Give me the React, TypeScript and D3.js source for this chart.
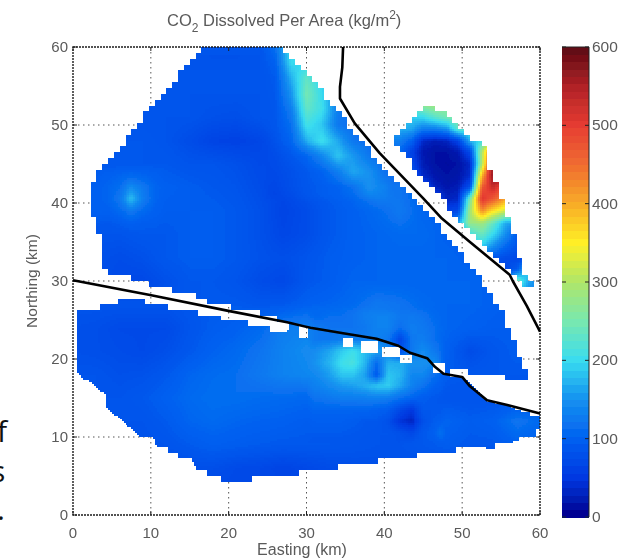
import React, { useMemo } from "react";
import * as d3 from "d3";

const W = 630, H = 559;
const PLOT = { l: 73, r: 540, t: 47, b: 515 };
const BAR = { l: 562, r: 589, t: 47, b: 517 };

const axisTicks = [0, 10, 20, 30, 40, 50, 60];
const barTicks = [0, 100, 200, 300, 400, 500, 600];
const colorStops = [0, 50, 100, 150, 200, 250, 300, 350, 400, 450, 500, 550, 600];
const colorValues = ["#00008a", "#0038e0", "#0060f0", "#1490f0", "#38dcf0", "#78e8b0", "#aee66a", "#fff028", "#f8ac28", "#f06c30", "#e63c30", "#b02228", "#5c0a10"];

// base field: x = 0..60 step 3, y = 60..0 step 3
const baseX = d3.range(0, 61, 3);
const baseY = d3.range(60, -1, -3);
const baseRows = [
  [85,85,85,85,85,85,80,80,85,120,180,120,100,100,100,100,100,100,100,100,100],
  [85,85,85,85,85,85,85,85,85,95,190,130,100,100,100,100,100,100,100,100,100],
  [85,85,85,85,85,85,85,85,85,95,230,120,105,100,100,100,100,100,100,100,100],
  [85,85,85,85,85,85,80,78,85,95,210,115,100,100,100,100,100,100,100,100,100],
  [90,90,90,90,85,75,65,62,68,85,130,150,120,105,100,100,100,100,100,100,100],
  [90,90,90,90,90,85,85,80,72,78,95,115,165,130,105,100,100,100,100,100,100],
  [100,100,105,110,100,95,90,85,75,70,85,95,110,145,120,100,100,100,100,100,100],
  [100,100,110,105,95,95,95,90,80,65,75,90,100,110,125,105,100,100,100,100,100],
  [90,85,85,90,90,95,95,90,80,68,75,90,100,105,110,110,100,100,100,100,100],
  [85,80,75,80,90,95,95,90,82,78,85,95,100,105,105,105,105,100,100,100,100],
  [80,78,72,70,80,90,90,85,75,70,88,95,105,105,105,105,105,105,100,100,100],
  [85,85,85,85,85,88,92,92,88,90,100,105,110,125,120,110,105,105,100,95,95],
  [80,78,72,72,72,85,95,100,110,130,135,125,125,125,125,110,105,100,95,95,95],
  [80,78,75,72,78,90,102,110,120,135,145,160,185,160,140,115,100,75,88,95,95],
  [85,85,80,82,90,105,112,115,125,135,140,155,185,165,130,105,95,90,90,90,90],
  [85,85,85,90,100,110,115,115,112,110,108,115,125,115,100,90,85,85,85,85,90],
  [85,85,85,85,92,105,110,105,102,100,95,95,95,90,60,90,105,95,100,122,110],
  [80,80,80,82,85,92,98,95,92,90,90,90,88,85,85,90,95,90,90,100,100],
  [75,75,75,75,75,78,78,72,70,65,70,75,78,80,80,80,80,80,85,90,90],
  [70,70,70,70,70,70,70,70,70,70,70,70,70,70,70,70,70,70,70,70,70],
  [70,70,70,70,70,70,70,70,70,70,70,70,70,70,70,70,70,70,70,70,70],
];

// small bright spot on the western side
const westX = d3.range(3, 12.1, 1.5);
const westY = d3.range(45, 35.9, -1.5);
const westRows = [
  [92,92,92,92,92,92,92],
  [100,100,105,110,105,100,95],
  [100,105,115,145,125,105,100],
  [100,105,125,180,130,105,95],
  [100,100,110,125,110,100,95],
  [90,90,95,100,95,95,90],
  [85,85,85,90,90,90,90],
];

// bright band south-west of the northern fault
const bandX = d3.range(24, 43, 2);
const bandY = d3.range(60, 39, -2);
const bandRows = [
  [85,115,205,160,125,110,100,100,100,100],
  [85,100,200,190,140,115,105,100,100,100],
  [85,92,170,235,190,125,110,105,100,100],
  [85,90,150,250,200,130,112,105,100,100],
  [85,88,130,235,205,130,115,105,100,100],
  [80,88,115,210,185,125,115,110,100,100],
  [65,82,105,170,205,165,125,110,105,100],
  [70,75,88,105,140,185,155,125,110,105],
  [72,72,80,90,102,130,165,150,120,105],
  [72,68,78,88,95,102,118,150,135,110],
  [75,65,72,85,95,100,105,125,130,120],
];

// centre of the southern block
const midX = d3.range(30, 48.1, 1.5);
const midY = d3.range(27, 8.9, -1.5);
const midRows = [
  [100,105,105,110,115,125,125,120,115,115,110,105,105],
  [110,110,115,115,120,130,135,135,125,125,120,110,105],
  [130,125,120,120,120,125,135,135,115,130,125,115,105],
  [125,125,125,130,130,130,135,125,65,125,130,115,105],
  [135,150,165,190,205,180,165,140,80,125,145,125,105],
  [140,155,175,205,215,175,110,170,170,150,150,145,105],
  [135,145,160,185,185,160,90,185,175,140,140,115,100],
  [130,135,145,155,160,170,185,190,165,135,120,100,95],
  [118,120,125,130,130,132,135,130,115,105,95,90,90],
  [105,105,105,105,105,105,100,95,70,50,90,90,90],
  [98,98,98,98,95,90,90,80,45,32,80,95,100],
  [92,92,92,92,90,88,85,85,80,70,90,100,145],
  [85,85,85,85,85,85,85,85,85,85,90,92,95],
];

// north-eastern block
const neX = d3.range(42, 60.1, 1.5);
const neY = d3.range(54, 27.9, -1.5);
const neRows = [
  [200,250,280,280,280,280,250,200,200,200,200,200,200],
  [200,230,270,285,270,260,250,230,220,200,200,200,200],
  [190,190,200,230,250,260,250,230,220,200,200,200,200],
  [170,165,130,130,150,230,225,230,230,230,230,230,230],
  [130,100,35,25,30,60,170,210,300,350,350,350,350],
  [110,60,22,15,15,22,70,300,500,500,500,500,500],
  [100,70,25,15,12,15,35,300,575,590,590,590,590],
  [100,90,35,20,15,18,40,400,570,580,580,580,580],
  [100,90,80,30,20,25,80,470,530,470,420,420,420],
  [100,100,90,70,30,35,250,510,470,410,350,350,350],
  [100,100,100,90,60,70,290,420,360,320,300,300,300],
  [100,100,100,100,100,160,280,290,240,170,160,160,160],
  [100,100,100,100,100,130,210,240,200,150,95,95,95],
  [100,100,100,100,100,130,170,190,150,110,85,85,85],
  [100,100,100,100,100,130,150,120,85,75,70,70,70],
  [100,100,100,100,100,120,120,100,75,70,90,200,260],
  [100,100,100,100,100,100,100,100,100,100,250,170,130],
  [100,100,100,100,100,100,100,100,100,100,200,140,140],
];

// footprints, km
const upperEdge: [number, number][] = [
  [16.6,60],[27,60],[30.4,56.6],[33.9,51.9],[35.5,50],[39,45.5],[43,41.3],[47.1,37],[51.9,31],[52.3,30.2],
  [55.3,26],[56.5,22.6],[57.8,19.6],[58.7,18],[58.7,17.6],[55.2,17.6],[55.2,18.1],[50.7,18.1],[46,18.5],[40,20],[28,23.4],
  [27.5,24.7],[25.3,25.5],[22.3,26.2],[19.8,26.7],[17.2,27.4],[15,28.3],[12.2,29],[9.9,29.6],[7.3,30.5],[5,30.5],
  [3.6,31.8],[3.6,34.4],[4.2,35.9],[2.8,35.9],[2.8,38],[2.2,40.1],[2.2,41.9],[2.8,43.3],[5.1,46.1],[8.6,50.2],
  [9.9,52.3],[12.5,54.9],[14.6,57.7],
];
const lowerEdge: [number, number][] = [
  [0.6,26.3],[3.5,26.3],[3.5,26.9],[5.8,26.9],[5.8,27.7],[9.3,27.7],[9.3,26.9],[12.2,26.9],[12.2,26.3],[15.9,26.3],
  [15.9,25.6],[18.9,25.6],[18.9,24.9],[22.5,24.9],[22.5,24.2],[25.3,24.2],[25.3,23.5],[27.5,23.5],[28,24.7],[41,22],[47,20],[49.8,18.9],
  [49.8,17.6],[51,17],[52.5,15.5],[53.2,14.6],[55.8,14.1],[57.2,13.4],[58.7,13.3],[58.7,12.7],[60,12.7],[60,11.1],[59.6,11.1],[59.6,10.1],
  [60,10],[57.3,10],[57.3,9.4],[54.2,9.3],[54.2,8.6],[49.2,8.7],[49.2,7.9],[44.2,7.9],[44.2,7.2],[39.2,7.2],[39.2,6.5],
  [33.9,6.5],[33.9,5.8],[28.9,5.8],[28.9,5.1],[23,5.1],[23,4.3],[18.9,4.3],[18.9,5.1],[17.2,5.1],[17.2,5.8],[15.9,5.8],
  [15.2,7.2],[13.6,7.2],[13.6,8],[12.2,8.1],[12.2,8.7],[10.8,8.7],[10.3,9.9],[8.7,9.9],[8,10.6],[6.5,11.9],[5,13.2],[4.2,14],
  [4.2,15.3],[2.8,16.7],[1.3,17.4],[0.6,18.2],
];
const neEdge: [number, number][] = [
  [45.9,52.8],[52.7,47.2],[53.6,46.8],[53.6,44.6],[54.4,42.7],[55.1,42.6],[55.1,40.6],[55.8,38.4],[56.5,38.2],[56.5,35.9],
  [57.2,35.9],[57.2,33],[57.9,33],[57.9,30.8],[59,29.9],[59,29.1],[58.1,29.1],[56.5,30.5],[50,37.4],[47.3,40.6],[42,46.8],
  [41.2,47.7],[41.2,48.7],[43,50.2],[45,52.3],
];
const gaps: [number, number, number, number][] = [
  [29, 30.3, 22.8, 24.2],[34.7, 36.1, 21.5, 22.8],[36.9, 39.2, 20.8, 22.2],[39.8, 41.9, 20.2, 21.4],
  [41.9, 43.4, 19.6, 20.6],[46.3, 47.8, 18.2, 19.5],[48.6, 50.7, 17.8, 18.8],
];

const southFault: [number, number][] = [
  [0,30.1],[9.9,28.2],[19.8,26.2],[27.5,24.7],[30.5,24],[34.7,23.3],[39,22.6],[41.8,21.7],[43.3,20.8],[45.5,20.1],
  [46.5,19],[47.6,18.1],[50,17.7],[51,16.5],[53.2,14.7],[55.8,14.1],[60,13],
];
const northFault: [number, number][] = [
  [34.7,60],[34.6,57.4],[34.3,54.9],[34.3,53.4],[36.2,50.2],[39.4,46.4],[45,40.6],[47.4,38],[51,35],[56.1,30.8],
  [56.5,30],[58.3,26.8],[60,23.5],
];

const strayGlyphs = [
  { t: "f", x: -3, y: 442 }, { t: "s", x: -9, y: 482 }, { t: ".", x: -3, y: 520 },
];

function bilinear(xs: number[], ys: number[], rows: number[][], x: number, y: number) {
  const dx = xs[1] - xs[0], dy = ys[0] - ys[1];
  const fx = Math.max(0, Math.min(xs.length - 1.001, (x - xs[0]) / dx));
  const fy = Math.max(0, Math.min(ys.length - 1.001, (ys[0] - y) / dy));
  const i = Math.floor(fx), j = Math.floor(fy), u = fx - i, v = fy - j;
  return (rows[j][i] * (1 - u) + rows[j][i + 1] * u) * (1 - v) + (rows[j + 1][i] * (1 - u) + rows[j + 1][i + 1] * u) * v;
}

function patchWeight(xs: number[], ys: number[], x: number, y: number) {
  const d = Math.min(x - xs[0], xs[xs.length - 1] - x, y - ys[ys.length - 1], ys[0] - y);
  const t = Math.max(0, Math.min(1, d / 1.2));
  return t * t * (3 - 2 * t);
}

function fieldAt(x: number, y: number) {
  let v = bilinear(baseX, baseY, baseRows, x, y);
  const patches: [number[], number[], number[][], boolean][] = [
    [westX, westY, westRows, false],
    [bandX, bandY, bandRows, y > 59],
    [midX, midY, midRows, false],
  ];
  for (const [xs, ys, rows, edge] of patches) {
    const w = edge ? 1 : patchWeight(xs, ys, x, y);
    if (w > 0) v = v * (1 - w) + bilinear(xs, ys, rows, x, y) * w;
  }
  return v;
}

const CELL = 0.75;
const snap = (c: number) => (Math.floor(c / CELL) + 0.5) * CELL;

function regionAt(x: number, y: number): "main" | "ne" | null {
  for (const g of gaps) if (x >= g[0] && x <= g[1] && y >= g[2] && y <= g[3]) return null;
  const sx = snap(x), sy = snap(y);
  if (d3.polygonContains(neEdge, [sx, sy])) return "ne";
  if (d3.polygonContains(upperEdge, [sx, sy])) return "main";
  if (d3.polygonContains(lowerEdge, [x, y])) return "main";
  return null;
}

export default function App() {
  const x = d3.scaleLinear().domain([0, 60]).range([PLOT.l, PLOT.r]);
  const y = d3.scaleLinear().domain([0, 60]).range([PLOT.b, PLOT.t]);
  const barY = d3.scaleLinear().domain([0, 600]).range([BAR.b, BAR.t]);
  const color = d3.scaleLinear<string>().domain(colorStops).range(colorValues).interpolate(d3.interpolateRgb).clamp(true);

  const paths = useMemo(() => {
    const LEVELS = 240;
    const buckets: string[] = new Array(LEVELS).fill("");
    const step = 0.25;
    for (let a = 0; a < 60; a += step) {
      const x0 = Math.round(x(a)), x1 = Math.round(x(a + step));
      for (let b = 0; b < 60; b += step) {
        const cx = a + step / 2, cy = b + step / 2;
        const r = regionAt(cx, cy);
        if (!r) continue;
        const v = r === "ne" ? bilinear(neX, neY, neRows, cx, cy) : fieldAt(cx, cy);
        const k = Math.max(0, Math.min(LEVELS - 1, Math.floor((v / 600) * LEVELS)));
        const y0 = Math.round(y(b + step)), y1 = Math.round(y(b));
        buckets[k] += `M${x0} ${y0}h${x1 - x0}v${y1 - y0}h${x0 - x1}z`;
      }
    }
    return buckets.map((d, k) => ({ d, fill: color(((k + 0.5) / LEVELS) * 600) })).filter((p) => p.d);
  }, []);

  const line = d3.line<[number, number]>().x((d) => x(d[0])).y((d) => y(d[1]));
  const barBands = d3.range(0, 600, 600 / 64);
  const inner = [10, 20, 30, 40, 50];
  const gray = "#5a5a5a";
  const font = "'Liberation Sans', Arial, sans-serif";

  return (
    <svg width={W} height={H} viewBox={`0 0 ${W} ${H}`} style={{ position: "absolute", left: 0, top: 0, background: "#fff" }}>
      <defs>
        <filter id="softer" filterUnits="userSpaceOnUse" x="0" y="0" width={W} height={H}>
          <feGaussianBlur stdDeviation="0.4" />
        </filter>
      </defs>
      <g filter="url(#softer)">
        {inner.map((t) => (
          <g key={t} stroke="#555" strokeWidth={1} strokeDasharray="1.5 3.5">
            <line x1={x(t)} x2={x(t)} y1={PLOT.t} y2={PLOT.b} />
            <line x1={PLOT.l} x2={PLOT.r} y1={y(t)} y2={y(t)} />
          </g>
        ))}
        <g shapeRendering="crispEdges">
          {paths.map((p, i) => <path key={i} d={p.d} fill={p.fill} />)}
        </g>
        <rect x={PLOT.l} y={PLOT.t} width={PLOT.r - PLOT.l} height={PLOT.b - PLOT.t} fill="none" stroke="#1a1a1a" strokeWidth={1.4} strokeDasharray="2 1" />
        {axisTicks.map((t) => (
          <g key={t} stroke="#222" strokeWidth={1}>
            <line x1={x(t)} x2={x(t)} y1={PLOT.b} y2={PLOT.b - 4} />
            <line x1={x(t)} x2={x(t)} y1={PLOT.t} y2={PLOT.t + 4} />
            <line x1={PLOT.l} x2={PLOT.l + 4} y1={y(t)} y2={y(t)} />
            <line x1={PLOT.r} x2={PLOT.r - 4} y1={y(t)} y2={y(t)} />
          </g>
        ))}
        <path d={line(southFault) || ""} fill="none" stroke="#000" strokeWidth={2.6} strokeLinejoin="round" />
        <path d={line(northFault) || ""} fill="none" stroke="#000" strokeWidth={2.6} strokeLinejoin="round" />

        <g shapeRendering="crispEdges">
          {barBands.map((v) => (
            <rect key={v} x={BAR.l} width={BAR.r - BAR.l} y={barY(v + 600 / 64)} height={barY(v) - barY(v + 600 / 64) + 0.6} fill={color(v + 300 / 64)} />
          ))}
        </g>
        <line x1={BAR.r} x2={BAR.r} y1={BAR.t} y2={BAR.b} stroke="#222" strokeWidth={1} />
        <line x1={BAR.l} x2={BAR.r} y1={BAR.t} y2={BAR.t} stroke="#222" strokeWidth={1} />
        {barTicks.map((t) => (
          <g key={t} stroke="#222" strokeWidth={1}>
            <line x1={BAR.l} x2={BAR.l + 4} y1={barY(t)} y2={barY(t)} />
            <line x1={BAR.r} x2={BAR.r - 4} y1={barY(t)} y2={barY(t)} />
          </g>
        ))}

        <g fontFamily={font} fill={gray} fontSize={15}>
          {axisTicks.map((t) => (
            <text key={t} x={x(t)} y={PLOT.b + 23} textAnchor="middle">{t}</text>
          ))}
          {axisTicks.map((t) => (
            <text key={t} x={PLOT.l - 5} y={y(t) + 5} textAnchor="end">{t}</text>
          ))}
          {barTicks.map((t) => (
            <text key={t} x={592} y={barY(t) + 5} fontSize={15.5}>{t}</text>
          ))}
          <text x={302} y={555} textAnchor="middle" fontSize={16}>Easting (km)</text>
          <text transform={`translate(37,281) rotate(-90)`} textAnchor="middle" fontSize={15.5}>Northing (km)</text>
          <text x={167} y={26} fontSize={16.5}>
            CO<tspan dy={6} fontSize={12}>2</tspan><tspan dy={-6}> Dissolved Per Area (kg/m</tspan><tspan dy={-7} fontSize={12}>2</tspan><tspan dy={7}>)</tspan>
          </text>
        </g>
      </g>
      <g fontFamily="'Open Sans', sans-serif" fontSize={30} fill="#111">
        {strayGlyphs.map((g) => <text key={g.t} x={g.x} y={g.y}>{g.t}</text>)}
      </g>
    </svg>
  );
}
